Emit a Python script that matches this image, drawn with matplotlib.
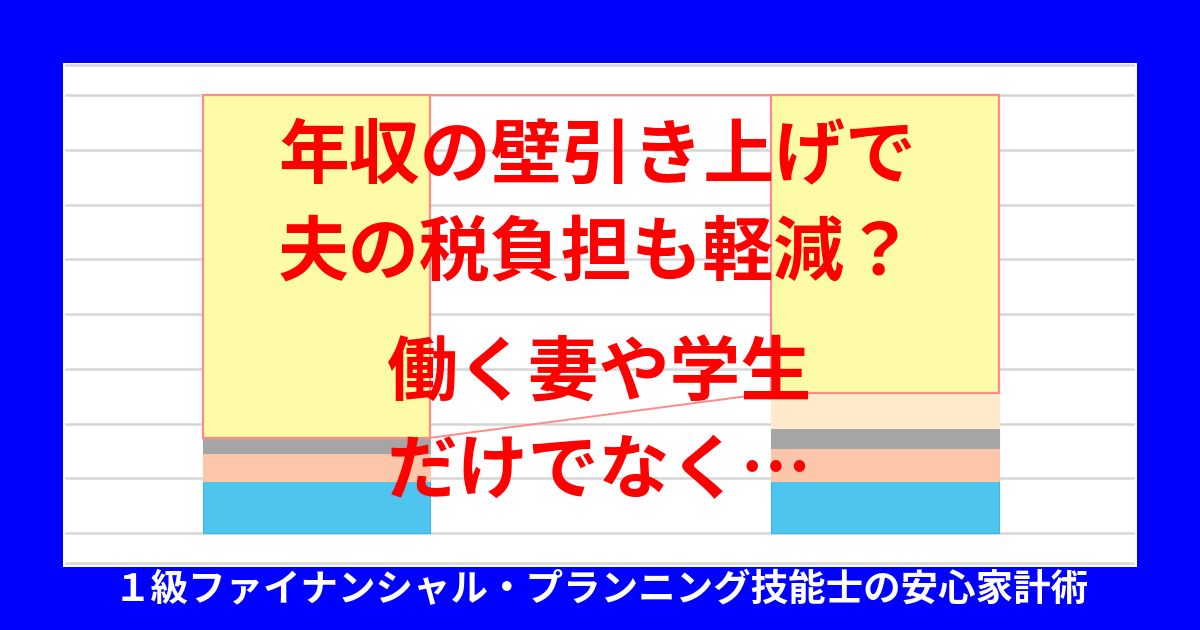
import matplotlib
matplotlib.use("Agg")
import matplotlib.pyplot as plt
import numpy as np

# ---- data ----
categories = ["引き上げ前", "引き上げ後"]
seg_blue = [47.5, 47.5]
seg_salmon = [25.5, 30.0]
seg_gray = [14.0, 18.5]
seg_beige = [0.0, 32.0]
seg_yellow = [313.0, 272.0]
grid_values = [-27, 0, 50, 100, 150, 200, 250, 300, 350, 400, 428]

title_lines = ["年収の壁引き上げで", "夫の税負担も軽減？"]
sub_lines = ["働く妻や学生", "だけでなく…"]
footer = "１級ファイナンシャル・プランニング技能士の安心家計術"

W, H = 1200, 630
fig = plt.figure(figsize=(W / 100, H / 100), dpi=100, facecolor="#0000FF")
ax = fig.add_axes([63 / W, (H - 567) / H, 1074 / W, 504 / H])
ax.set_facecolor("white")

x = np.arange(len(categories))
width = 0.4
ax.set_xlim(-0.446, 1.443)
ax.set_ylim(-31.1, 429.6)

for g in grid_values:
    ax.axhline(g, xmin=3 / 1074, xmax=1070 / 1074, color="#D6D6D6", lw=1.8, zorder=1)

series = [
    (seg_blue, "#4FC4EE", "#3BB5E2"),
    (seg_salmon, "#FCC6AB", "#FCC6AB"),
    (seg_gray, "#A5A5A5", "#A5A5A5"),
    (seg_beige, "#FFEBCB", "#FFEBCB"),
]
bottom = np.zeros(len(categories))
for vals, fc, ec in series:
    v = np.array(vals)
    ax.bar(x, v, width=width, bottom=bottom, color=fc, edgecolor=ec, lw=0.8, zorder=2)
    bottom = bottom + v

yellow = np.array(seg_yellow)
ax.bar(x, yellow, width=width, bottom=bottom, color="#FEFBA6", edgecolor="#FF8A8A",
       lw=1.6, zorder=3)
top = bottom + yellow

# series lines connecting the yellow segment
ax.plot([x[0] + width / 2, x[1] - width / 2], [top[0], top[1]], color="#FF8A8A", lw=1.4, zorder=3)
ax.plot([x[0] + width / 2, x[1] - width / 2], [bottom[0], bottom[1]], color="#FF8A8A", lw=1.4, zorder=3)

ax.set_xticks([])
ax.set_yticks([])
for s in ax.spines.values():
    s.set_visible(False)

font = ["Noto Sans CJK JP", "DejaVu Sans"]
red = "#FF0000"
fs = 51
fig.text(597 / W, 1 - 156 / H, title_lines[0], ha="center", va="center", color=red,
         fontsize=fs, fontweight="bold", family=font)
fig.text(597 / W, 1 - 253 / H, title_lines[1], ha="center", va="center", color=red,
         fontsize=fs, fontweight="bold", family=font)
fig.text(600 / W, 1 - 375 / H, sub_lines[0], ha="center", va="center", color=red,
         fontsize=fs, fontweight="bold", family=font)
fig.text(600 / W, 1 - 472 / H, sub_lines[1], ha="center", va="center", color=red,
         fontsize=fs, fontweight="bold", family=font)

fig.text(601 / W, 1 - 590 / H, footer, ha="center", va="center", color="white",
         fontsize=27, fontweight="bold", family=font)

fig.savefig("out.png", dpi=100, facecolor=fig.get_facecolor())
